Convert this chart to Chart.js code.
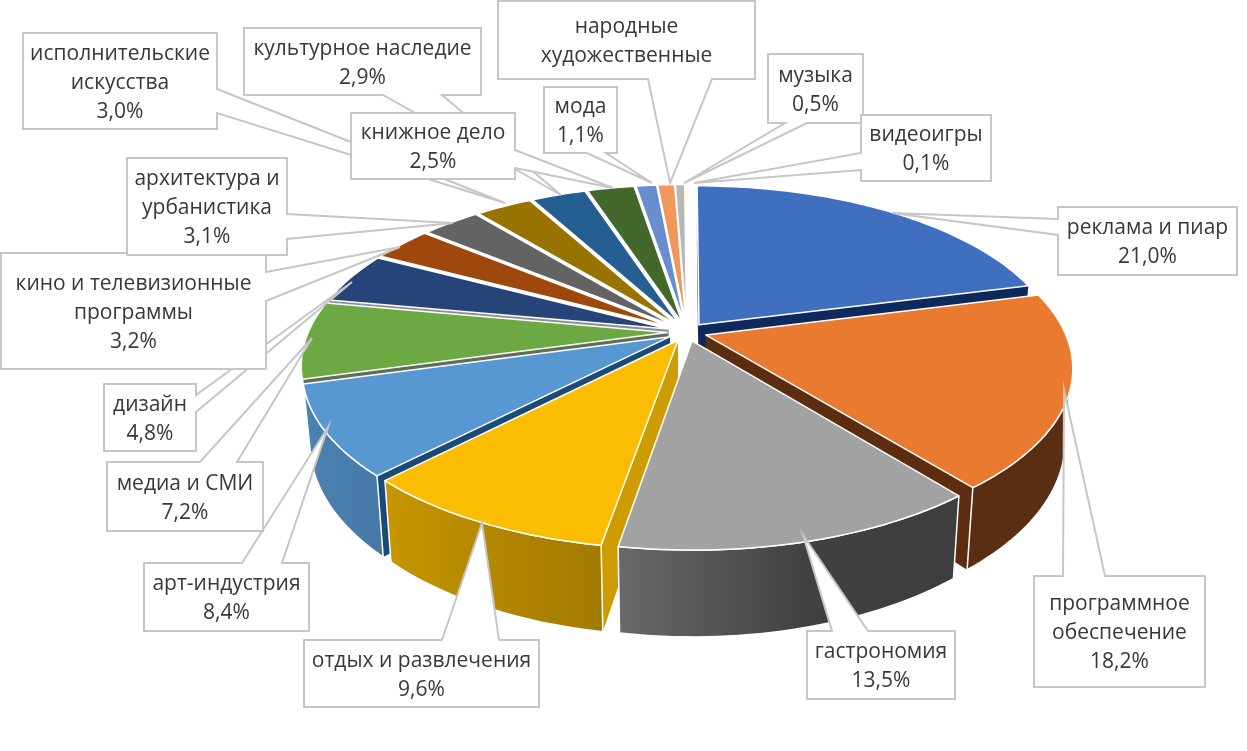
<!DOCTYPE html>
<html lang="ru">
<head>
<meta charset="utf-8">
<title>Креативные индустрии</title>
<script src="https://cdn.jsdelivr.net/npm/chart.js@4"></script>
<style>
  html, body { margin: 0; padding: 0; background: #fff; }
  #chart { display: block; filter: blur(0.6px); }
</style>
</head>
<body>
<canvas id="chart" width="1247" height="751"></canvas>
<script>
// Slices, clockwise from 12 o'clock. "народные художественные" prints no number, 0.9 is what is left of 100%.
const categories = [
  ['реклама и пиар'], ['программное', 'обеспечение'], ['гастрономия'], ['отдых и развлечения'],
  ['арт-индустрия'], ['медиа и СМИ'], ['дизайн'], ['кино и телевизионные', 'программы'],
  ['архитектура и', 'урбанистика'], ['исполнительские', 'искусства'], ['культурное наследие'], ['книжное дело'],
  ['мода'], ['народные', 'художественные'], ['музыка'], ['видеоигры']
];
const values = [21.0, 18.2, 13.5, 9.6, 8.4, 7.2, 4.8, 3.2, 3.1, 3.0, 2.9, 2.5, 1.1, 0.9, 0.5, 0.1];
const percentLabels = ['21,0%', '18,2%', '13,5%', '9,6%', '8,4%', '7,2%', '4,8%', '3,2%', '3,1%', '3,0%', '2,9%', '2,5%', '1,1%', '', '0,5%', '0,1%'];

const topColors = ['#416fc0', '#ea7a2f', '#a2a2a2', '#fbbd00', '#5898d2', '#6ca943', '#264478', '#9e480e',
                   '#636363', '#997300', '#255e91', '#43682b', '#698ed0', '#f1975a', '#b7b7b7', '#ffcd33'];
// Colour of the cut faces seen in the gaps. The far slices show only white there.
const cutColors = ['#10295c', '#5c2d0e', '#4a4a4a', '#cc9c00', '#1a4a75', '#5f6f55', '#8a8f99', '#ffffff',
                   '#ffffff', '#ffffff', '#ffffff', '#ffffff', '#ffffff', '#ffffff', '#ffffff', '#ffffff'];

// Callouts: box [x1, y1, x2, y2], side the pointer leaves from, pointer base along that side, pointer tip.
const callouts = [
  { box: [1058, 207, 1237, 275], side: 3, base: [219, 235], tip: [892, 213] },
  { box: [1034, 576, 1205, 687], side: 0, base: [1063, 1105], tip: [1064, 390] },
  { box: [807, 631, 955, 699], side: 0, base: [832, 868], tip: [803, 535] },
  { box: [304, 640, 539, 707], side: 0, base: [442, 499], tip: [482, 523] },
  { box: [144, 563, 309, 631], side: 0, base: [242, 282], tip: [328, 427] },
  { box: [107, 462, 263, 531], side: 0, base: [200, 237], tip: [312, 338] },
  { box: [104, 384, 196, 451], side: 1, base: [395, 412], tip: [352, 282] },
  { box: [1, 253, 266, 369], side: 1, base: [272, 301], tip: [400, 247] },
  { box: [127, 158, 287, 255], side: 1, base: [214, 239], tip: [453, 223] },
  { box: [23, 33, 217, 129], side: 1, base: [89, 113], tip: [505, 203] },
  { box: [244, 28, 481, 95], side: 2, base: [383, 442], tip: [561, 195] },
  { box: [351, 113, 515, 179], side: 1, base: [150, 168], tip: [613, 188] },
  { box: [544, 87, 617, 153], side: 2, base: [587, 606], tip: [652, 183] },
  { box: [498, 1, 755, 79], side: 2, base: [648, 712], tip: [670, 183] },
  { box: [768, 54, 863, 123], side: 2, base: [785, 807], tip: [684, 183] },
  { box: [861, 115, 991, 181], side: 3, base: [153, 170], tip: [694, 183] }
];

// Perspective of the tilted pie, fitted to the reference.
const view = { cx: 687, cy: 332, ax: 359, ay: 167, persp: 0.184, depth: 70, floorScale: 0.98 };
const lineHeight = 29;

// Unit disc point (x to the right, z to the back) on the top face, or lowered to the floor.
function project(x, z, floor) {
  const k = 1 / (1 + view.persp * z);
  const sx = x * k * view.ax;
  return {
    x: view.cx + (floor ? sx * view.floorScale : sx),
    y: view.cy - z * k * view.ay + (floor ? view.depth * k : 0)
  };
}

// Side brightness by angle.
function wallShade(deg) {
  const stops = [[141, 0.38], [165, 0.4], [190, 0.65], [225, 0.8], [260, 0.88]];
  if (deg <= stops[0][0]) return stops[0][1];
  for (let i = 1; i < stops.length; i++) {
    if (deg <= stops[i][0]) {
      const t = (deg - stops[i - 1][0]) / (stops[i][0] - stops[i - 1][0]);
      return stops[i - 1][1] + t * (stops[i][1] - stops[i - 1][1]);
    }
  }
  return stops[stops.length - 1][1];
}

function shadeHex(hex, f) {
  const n = parseInt(hex.slice(1), 16);
  return 'rgb(' + Math.round((n >> 16) * f) + ',' + Math.round(((n >> 8) & 255) * f) + ',' + Math.round((n & 255) * f) + ')';
}

function tracePoly(ctx, pts) {
  ctx.beginPath();
  pts.forEach((p, i) => i ? ctx.lineTo(p.x, p.y) : ctx.moveTo(p.x, p.y));
  ctx.closePath();
}

// One slice: cut faces, outer wall, then the top face.
function drawSlice(ctx, arc, i) {
  const a0 = arc.startAngle + Math.PI / 2;
  const a1 = arc.endAngle + Math.PI / 2;
  const mid = (a0 + a1) / 2;
  const off = arc.options.offset / arc.outerRadius;
  const ox = Math.sin(mid) * off;
  const oz = Math.cos(mid) * off;
  const at = (a, floor) => project(ox + Math.sin(a), oz + Math.cos(a), floor);
  const apex = project(ox, oz, false);
  const apexFloor = project(ox, oz, true);

  const steps = Math.max(2, Math.ceil((a1 - a0) * 40));
  const rimTop = [];
  const wallTop = [];
  const wallFloor = [];
  const wallAngles = [];
  for (let s = 0; s <= steps; s++) {
    const a = a0 + (a1 - a0) * s / steps;
    rimTop.push(at(a, false));
    // Only the part of the rim that faces the viewer has a wall to show.
    if (oz + Math.cos(a) < -view.persp) {
      wallTop.push(at(a, false));
      wallFloor.push(at(a, true));
      wallAngles.push(a);
    }
  }

  ctx.lineWidth = 1.5;
  ctx.strokeStyle = '#ffffff';
  ctx.lineJoin = 'round';

  ctx.fillStyle = cutColors[i];
  tracePoly(ctx, [apex, at(a0, false), at(a0, true), apexFloor]);
  ctx.fill();
  tracePoly(ctx, [apex, at(a1, false), at(a1, true), apexFloor]);
  ctx.fill();

  if (wallTop.length > 1) {
    const firstX = wallTop[0].x;
    const lastX = wallTop[wallTop.length - 1].x;
    const grad = ctx.createLinearGradient(firstX, 0, lastX, 0);
    wallTop.forEach((p, s) => {
      // Rim x is not quite monotonic at the far left and right, so keep the stop in range.
      const t = Math.min(1, Math.max(0, (p.x - firstX) / ((lastX - firstX) || 1)));
      grad.addColorStop(t, shadeHex(topColors[i], wallShade(wallAngles[s] * 180 / Math.PI)));
    });
    ctx.fillStyle = grad;
    tracePoly(ctx, wallTop.concat(wallFloor.slice().reverse()));
    ctx.fill();
    ctx.stroke();
  }

  ctx.fillStyle = topColors[i];
  tracePoly(ctx, [apex].concat(rimTop));
  ctx.fill();
  ctx.stroke();
}

function calloutPoints(c) {
  const [x1, y1, x2, y2] = c.box;
  const [b0, b1] = c.base;
  const tip = { x: c.tip[0], y: c.tip[1] };
  const pts = [{ x: x1, y: y1 }];
  if (c.side === 0) pts.push({ x: b0, y: y1 }, tip, { x: b1, y: y1 });
  pts.push({ x: x2, y: y1 });
  if (c.side === 1) pts.push({ x: x2, y: b0 }, tip, { x: x2, y: b1 });
  pts.push({ x: x2, y: y2 });
  if (c.side === 2) pts.push({ x: b1, y: y2 }, tip, { x: b0, y: y2 });
  pts.push({ x: x1, y: y2 });
  if (c.side === 3) pts.push({ x: x1, y: b1 }, tip, { x: x1, y: b0 });
  return pts;
}

function drawCallout(ctx, c, i) {
  ctx.fillStyle = '#ffffff';
  ctx.strokeStyle = '#c6c6c6';
  ctx.lineWidth = 2;
  ctx.lineJoin = 'miter';
  tracePoly(ctx, calloutPoints(c));
  ctx.fill();
  ctx.stroke();

  const lines = percentLabels[i] ? categories[i].concat(percentLabels[i]) : categories[i];
  const midX = (c.box[0] + c.box[2]) / 2;
  const midY = (c.box[1] + c.box[3]) / 2 + 2;
  ctx.fillStyle = '#383838';
  ctx.font = '21px "Open Sans", sans-serif';
  ctx.textAlign = 'center';
  ctx.textBaseline = 'middle';
  lines.forEach((line, n) => {
    ctx.fillText(line, midX, midY + (n - (lines.length - 1) / 2) * lineHeight);
  });
}

const pie3d = {
  id: 'pie3d',
  // Replaces the flat arcs: angles and radius still come from the pie controller.
  beforeDatasetDraw(chart, args) {
    const ctx = chart.ctx;
    const arcs = args.meta.data;
    const order = arcs.map((arc, i) => i).sort((a, b) => {
      const midA = (arcs[a].startAngle + arcs[a].endAngle) / 2 + Math.PI / 2;
      const midB = (arcs[b].startAngle + arcs[b].endAngle) / 2 + Math.PI / 2;
      return Math.cos(midB) - Math.cos(midA);
    });
    ctx.save();
    order.forEach(i => drawSlice(ctx, arcs[i], i));
    ctx.restore();
    return false;
  },
  afterDraw(chart) {
    const ctx = chart.ctx;
    ctx.save();
    callouts.forEach((c, i) => drawCallout(ctx, c, i));
    ctx.restore();
  }
};

new Chart(document.getElementById('chart'), {
  type: 'pie',
  data: {
    labels: categories.map(c => c.join(' ')),
    datasets: [{ data: values, backgroundColor: topColors, offset: 20, borderWidth: 0 }]
  },
  options: {
    responsive: false,
    animation: false,
    layout: { padding: 0 },
    plugins: { legend: { display: false }, tooltip: { enabled: false } }
  },
  plugins: [pie3d]
});
</script>
</body>
</html>
